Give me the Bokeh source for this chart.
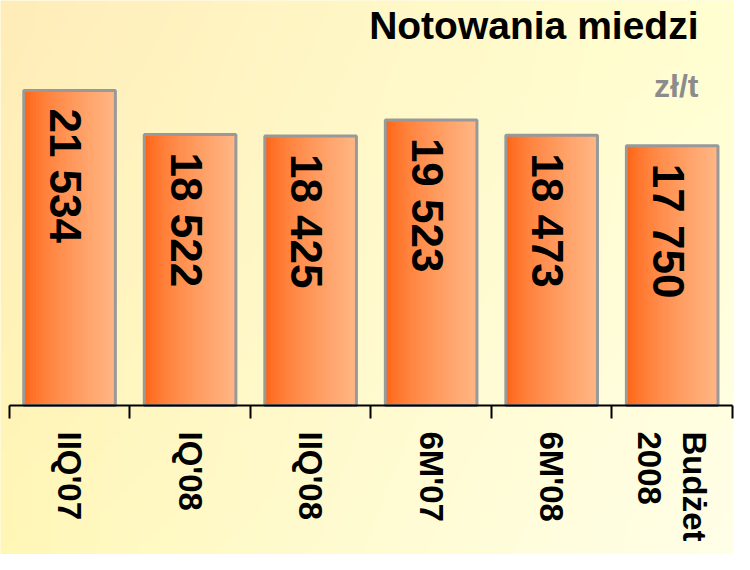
import math
import numpy as np
from bokeh.plotting import figure
from bokeh.models import Range1d, FixedTicker, Label
from bokeh.core.properties import value
from bokeh.embed import file_html
from bokeh.resources import INLINE

# ---- data ----
categories = ["IIQ'07", "IQ'08", "IIQ'08", "6M'07", "6M'08", "Budżet\n2008"]
prices = [21534, 18522, 18425, 19523, 18473, 17750]
title_text = "Notowania miedzi"
unit_text = "zł/t"

W, H = 734, 554
FONT = "Liberation Sans"
n = len(categories)
xs = list(range(n))
value_labels = [f"{v:,}".replace(",", " ") for v in prices]

x_start, x_end = -0.573, n - 0.5 + 0.017
y_start, y_end = -10185, 27683

p = figure(width=W, height=H, output_backend="svg", toolbar_location=None,
           x_range=Range1d(x_start, x_end), y_range=Range1d(y_start, y_end),
           y_axis_location=None, min_border=0, outline_line_color=None, tools="")
p.grid.visible = False
p.background_fill_color = "#FFF9CC"
p.border_fill_color = "#FFF9CC"

# ---- background gradient ----
gw, gh = 184, 139
gx = np.linspace(0, 1, gw)[None, :, None]
gy = np.linspace(0, 1, gh)[:, None, None]  # row 0 = bottom
TL = np.array([255, 236, 184.0]); BL = np.array([255, 247, 181.0])
TR = np.array([255, 255, 208.0]); BR = np.array([255, 255, 232.0])
left = BL + (TL - BL) * gy
right = BR + (TR - BR) * gy
t = gx ** 0.8
col = left + (right - left) * t
rgba = np.zeros((gh, gw, 4), dtype=np.uint8)
rgba[..., :3] = np.clip(col, 0, 255).astype(np.uint8)
rgba[..., 3] = 255
img = rgba.view(dtype=np.uint32).reshape((gh, gw))
p.image_rgba(image=[img], x=x_start, y=y_start, dw=x_end - x_start, dh=y_end - y_start, level="image")

# ---- bars with horizontal gradient ----
bar_w = 0.76
N = 30
lefts, rights, tops, colors = [], [], [], []
for i, v in zip(xs, prices):
    for k in range(N):
        tt = k / (N - 1)
        f = tt ** 0.7
        g = int(100 + (182 - 100) * f)
        b = int(20 + (132 - 20) * f)
        lefts.append(i - bar_w / 2 + k * bar_w / N)
        rights.append(i + bar_w / 2)
        tops.append(v)
        colors.append(f"#ff{g:02x}{b:02x}")
p.quad(left=lefts, right=rights, top=tops, bottom=0, fill_color=colors, line_color=None)
p.vbar(x=xs, top=prices, bottom=0, width=bar_w, fill_color=None,
       line_color="#999999", line_width=3)

p.text(x=xs, y=prices, text=value_labels, angle=-math.pi / 2,
       text_align="left", text_baseline="middle",
       text_font=value(FONT), text_font_style="bold", text_font_size="44px",
       text_color="black", x_offset=-4, y_offset=18)

# ---- axis ----
ax = p.xaxis[0]
ax.fixed_location = 0
ax.bounds = (-0.5, n - 0.5)
ax.ticker = FixedTicker(ticks=xs, minor_ticks=[i - 0.5 for i in range(n + 1)])
ax.major_label_overrides = {i: c for i, c in zip(xs, categories)}
ax.major_label_orientation = -math.pi / 2
ax.major_tick_out = 0
ax.major_tick_in = 0
ax.minor_tick_out = 13
ax.minor_tick_in = 0
ax.minor_tick_line_color = "black"
ax.minor_tick_line_width = 2
ax.axis_line_color = "black"
ax.axis_line_width = 2
ax.major_label_text_font = FONT
ax.major_label_text_font_style = "bold"
ax.major_label_text_font_size = "33px"
ax.major_label_text_color = "black"
ax.major_label_standoff = 13

# ---- titles ----
p.add_layout(Label(x=x_end, y=y_end, x_offset=-36, y_offset=-3, text=title_text,
                   text_align="right", text_baseline="top",
                   text_font=FONT, text_font_style="bold", text_font_size="39px",
                   text_color="black"))
p.add_layout(Label(x=x_end, y=y_end, x_offset=-36, y_offset=-67, text=unit_text,
                   text_align="right", text_baseline="top",
                   text_font=FONT, text_font_style="bold", text_font_size="32px",
                   text_color="#8c8c8c"))

open("out.html", "w").write(file_html(p, INLINE))
